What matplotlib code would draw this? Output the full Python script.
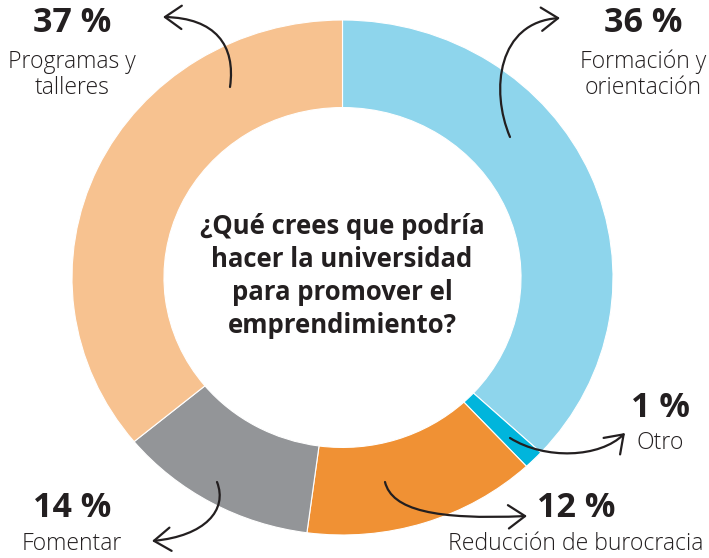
import matplotlib
matplotlib.use("Agg")
import matplotlib.pyplot as plt
from matplotlib.patches import FancyArrowPatch, ArrowStyle
from matplotlib.path import Path

# ---------------------------------------------------------------------------
# Data (clockwise from the top)
# ---------------------------------------------------------------------------
categories = ["Formación y\norientación", "Otro", "Reducción de burocracia",
              "Fomentar", "Programas y\ntalleres"]
pct_labels = ["36 %", "1 %", "12 %", "14 %", "37 %"]
# arc share as drawn in the picture
arc_share = [36.9, 1.2, 14.0, 11.9, 36.0]
colors = ["#8ED5EC", "#00B5DC", "#F09134", "#939598", "#F7C290"]
question = "¿Qué crees que podría\nhacer la universidad\npara promover el\nemprendimiento?"

W, H = 709, 558
TXT = "#231F20"
FAM = ["Open Sans", "DejaVu Sans"]

fig = plt.figure(figsize=(W / 100, H / 100), dpi=100)

# donut (slightly wider than tall, like the original)
left, right, top, bottom = 72, 613, 20, 535
ax = fig.add_axes([left / W, (H - bottom) / H, (right - left) / W, (bottom - top) / H])
ax.pie(arc_share, colors=colors, startangle=90, counterclock=False, radius=1,
       wedgeprops=dict(width=0.34, edgecolor="white", linewidth=0.8))
ax.set_aspect("auto")
ax.set_xlim(-1, 1)
ax.set_ylim(-1, 1)
ax.axis("off")

# overlay in pixel coordinates for labels and arrows
ov = fig.add_axes([0, 0, 1, 1])
ov.set_xlim(0, W)
ov.set_ylim(H, 0)
ov.axis("off")
ov.patch.set_alpha(0)

ov.text(342, 276, question, ha="center", va="center", fontsize=18.5,
        fontweight="bold", color=TXT, family=FAM, linespacing=1.28)

# label anchor positions (pixels): centre of the percentage line, gap to baseline
label_pos = [(643, 23, 45), (660, 408, 41), (576, 508, 42), (72, 508, 42), (72, 23, 45)]
for (x, y, gap), pct, cat in zip(label_pos, pct_labels, categories):
    ov.text(x, y, pct, ha="center", va="center", fontsize=24.5, fontweight="bold",
            color=TXT, family=FAM)
    for i, line in enumerate(cat.split("\n")):
        ov.text(x, y + gap + i * 26, line, ha="center", va="baseline", fontsize=16.6,
                fontweight="light", color=TXT, family=FAM)

# curved arrows (cubic bezier: start, c1, c2, end)
arrows = [
    [(230, 87), (236, 45), (215, 18), (163, 17)],
    [(510, 137), (490, 90), (498, 22), (560, 18)],
    [(510, 438), (545, 460), (600, 458), (625, 433)],
    [(385, 482), (392, 510), (435, 520), (527, 516)],
    [(217, 482), (228, 510), (205, 536), (152, 541)],
]
codes = [Path.MOVETO, Path.CURVE4, Path.CURVE4, Path.CURVE4]
for pts in arrows:
    arr = FancyArrowPatch(path=Path(pts, codes),
                          arrowstyle=ArrowStyle("->", head_length=0.6, head_width=0.42),
                          mutation_scale=20, lw=1.6, color=TXT)
    ov.add_patch(arr)

fig.savefig("out.png", dpi=100)
